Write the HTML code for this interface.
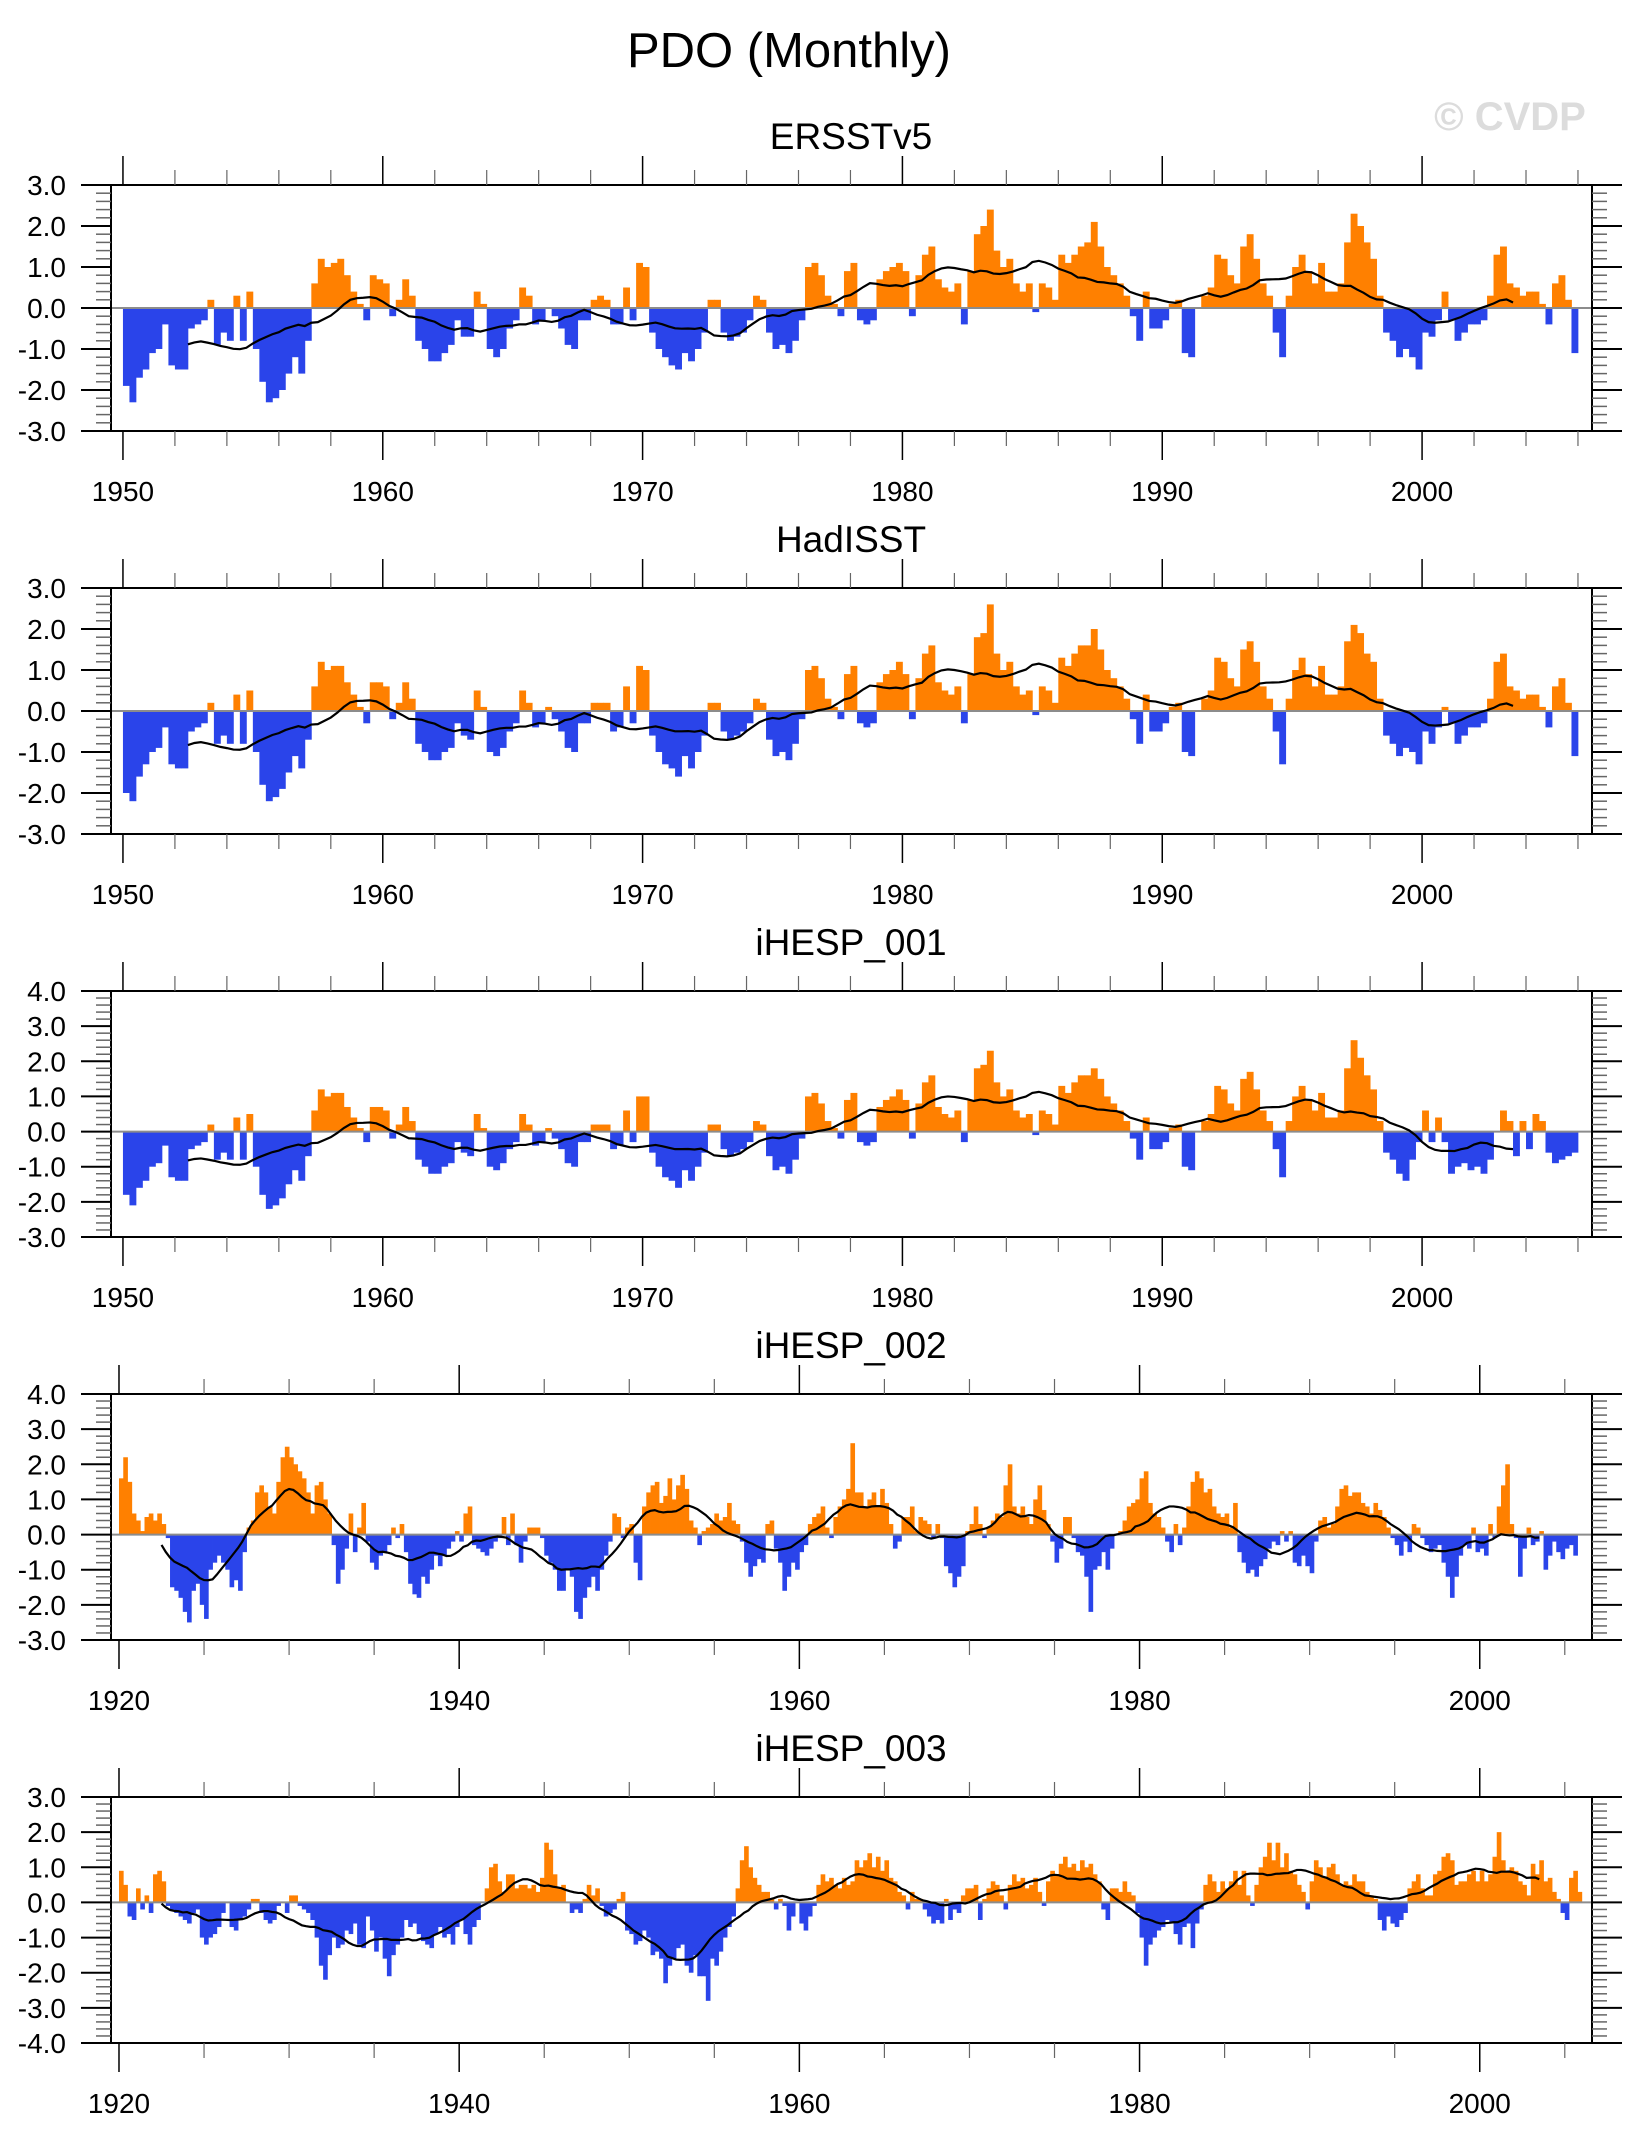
<!DOCTYPE html>
<html>
<head>
<meta charset="utf-8">
<style>
html,body{margin:0;padding:0;background:#fff;}
svg{display:block;font-family:"Liberation Sans",sans-serif;}
</style>
</head>
<body>
<svg id="chart" width="1629" height="2141" viewBox="0 0 1629 2141" xmlns="http://www.w3.org/2000/svg">
  <rect x="0" y="0" width="1629" height="2141" fill="#fff"/>
  <text x="789" y="67" font-size="49" text-anchor="middle" fill="#000">PDO (Monthly)</text>
  <text x="1510" y="130" font-size="40" font-weight="bold" text-anchor="middle" fill="#dcdcdc">© CVDP</text>
</svg>
<script>
// ---- data (quarterly PDO index values) ----
const ersstStart = 1950;
const ersstValues = [
-1.9,-2.3,-1.7,-1.5, -1.1,-1.0,-0.4,-1.4, -1.5,-1.5,-0.5,-0.4, -0.3,0.2,-0.9,-0.6, -0.8,0.3,-0.8,0.4,
-1.0,-1.8,-2.3,-2.2, -2.0,-1.6,-1.2,-1.6, -0.8,0.6,1.2,1.0, 1.1,1.2,0.8,0.4, 0.1,-0.3,0.8,0.7,
0.6,-0.2,0.2,0.7, 0.3,-0.8,-1.0,-1.3, -1.3,-1.1,-0.9,-0.3, -0.7,-0.7,0.4,0.1, -1.0,-1.2,-1.0,-0.5,
-0.3,0.5,0.3,-0.4, -0.3,0.0,-0.2,-0.5, -0.9,-1.0,-0.3,-0.3, 0.2,0.3,0.2,-0.4, -0.4,0.5,-0.3,1.1,
1.0,-0.6,-1.0,-1.2, -1.4,-1.5,-1.1,-1.3, -1.0,-0.6,0.2,0.2, -0.6,-0.8,-0.7,-0.6, -0.3,0.3,0.2,-0.6,
-1.0,-0.9,-1.1,-0.8, -0.3,1.0,1.1,0.8, 0.3,0.1,-0.2,0.9, 1.1,-0.3,-0.4,-0.3, 0.7,0.9,1.0,1.1,
0.9,-0.2,0.8,1.3, 1.5,0.7,0.5,0.4, 0.6,-0.4,0.9,1.8, 2.0,2.4,1.4,1.0, 1.2,0.6,0.4,0.6,
-0.1,0.6,0.5,0.2, 1.3,1.1,1.3,1.5, 1.6,2.1,1.5,1.0, 0.8,0.6,0.3,-0.2, -0.8,0.4,-0.5,-0.5,
-0.3,0.1,0.2,-1.1, -1.2,0.0,0.3,0.5, 1.3,1.2,0.8,0.6, 1.5,1.8,1.2,0.6, 0.3,-0.6,-1.2,0.3,
1.0,1.3,0.9,0.6, 1.1,0.4,0.4,0.6, 1.6,2.3,2.0,1.6, 1.2,0.3,-0.6,-0.8, -1.2,-1.0,-1.2,-1.5,
-0.6,-0.7,-0.3,0.4, -0.3,-0.8,-0.6,-0.4, -0.4,-0.3,0.3,1.3, 1.5,0.6,0.5,0.3, 0.4,0.4,0.1,-0.4,
0.6,0.8,0.2,-1.1
];
const hadStart = 1950;
const hadValues = [
-2.0,-2.2,-1.6,-1.3, -1.0,-0.9,-0.4,-1.3, -1.4,-1.4,-0.5,-0.4, -0.3,0.2,-0.8,-0.6, -0.8,0.4,-0.8,0.5,
-1.0,-1.8,-2.2,-2.1, -1.9,-1.5,-1.1,-1.4, -0.7,0.6,1.2,1.0, 1.1,1.1,0.7,0.4, 0.1,-0.3,0.7,0.7,
0.6,-0.2,0.2,0.7, 0.3,-0.8,-1.0,-1.2, -1.2,-1.0,-0.9,-0.3, -0.6,-0.7,0.5,0.1, -1.0,-1.1,-0.9,-0.5,
-0.3,0.5,0.2,-0.4, -0.3,0.1,-0.2,-0.5, -0.9,-1.0,-0.3,-0.3, 0.2,0.2,0.2,-0.5, -0.4,0.6,-0.3,1.1,
1.0,-0.6,-1.0,-1.3, -1.4,-1.6,-1.1,-1.4, -1.0,-0.6,0.2,0.2, -0.5,-0.7,-0.6,-0.5, -0.3,0.3,0.2,-0.7,
-1.1,-1.0,-1.2,-0.8, -0.2,1.0,1.1,0.8, 0.3,0.1,-0.2,0.9, 1.1,-0.3,-0.4,-0.3, 0.7,0.9,1.0,1.2,
0.9,-0.2,0.8,1.4, 1.6,0.7,0.5,0.4, 0.6,-0.3,0.9,1.8, 1.9,2.6,1.4,1.0, 1.2,0.6,0.4,0.5,
-0.1,0.6,0.5,0.2, 1.3,1.1,1.4,1.6, 1.6,2.0,1.5,1.0, 0.8,0.6,0.3,-0.2, -0.8,0.4,-0.5,-0.5,
-0.3,0.1,0.2,-1.0, -1.1,0.0,0.3,0.5, 1.3,1.2,0.8,0.6, 1.5,1.7,1.2,0.6, 0.3,-0.5,-1.3,0.3,
1.0,1.3,0.9,0.6, 1.1,0.4,0.4,0.6, 1.7,2.1,1.9,1.4, 1.2,0.3,-0.6,-0.8, -1.1,-0.9,-1.0,-1.3,
-0.5,-0.8,-0.4,0.1, -0.3,-0.8,-0.6,-0.4, -0.4,-0.3,0.3,1.2, 1.4,0.6,0.5,0.3, 0.4,0.4,0.1,-0.4,
0.6,0.8,0.2,-1.1
];
const ih1Start = 1950;
const ih1Values = [
-1.8,-2.1,-1.6,-1.4, -1.0,-0.9,-0.4,-1.3, -1.4,-1.4,-0.5,-0.4, -0.3,0.2,-0.8,-0.6, -0.8,0.4,-0.8,0.5,
-1.0,-1.8,-2.2,-2.1, -1.9,-1.5,-1.1,-1.4, -0.7,0.6,1.2,1.0, 1.1,1.1,0.7,0.4, 0.1,-0.3,0.7,0.7,
0.6,-0.2,0.2,0.7, 0.3,-0.8,-1.0,-1.2, -1.2,-1.0,-0.9,-0.3, -0.6,-0.7,0.5,0.1, -1.0,-1.1,-0.9,-0.5,
-0.3,0.5,0.2,-0.4, -0.3,0.1,-0.2,-0.5, -0.9,-1.0,-0.3,-0.3, 0.2,0.2,0.2,-0.5, -0.4,0.6,-0.3,1.0,
1.0,-0.6,-1.0,-1.3, -1.4,-1.6,-1.1,-1.4, -1.0,-0.6,0.2,0.2, -0.5,-0.7,-0.6,-0.5, -0.3,0.3,0.2,-0.7,
-1.1,-1.0,-1.2,-0.8, -0.2,1.0,1.1,0.8, 0.3,0.1,-0.2,0.9, 1.1,-0.3,-0.4,-0.3, 0.7,0.9,1.0,1.2,
0.9,-0.2,0.8,1.4, 1.6,0.7,0.5,0.4, 0.6,-0.3,0.9,1.8, 1.9,2.3,1.4,1.0, 1.2,0.6,0.4,0.5,
-0.1,0.6,0.5,0.2, 1.3,1.1,1.4,1.6, 1.6,1.8,1.5,1.0, 0.8,0.6,0.3,-0.2, -0.8,0.4,-0.5,-0.5,
-0.3,0.1,0.2,-1.0, -1.1,0.0,0.3,0.5, 1.3,1.2,0.8,0.6, 1.5,1.7,1.2,0.6, 0.3,-0.5,-1.3,0.3,
1.0,1.3,0.9,0.6, 1.1,0.4,0.4,0.6, 1.8,2.6,2.1,1.6, 1.2,0.3,-0.6,-0.8, -1.2,-1.4,-0.8,-0.3,
0.6,-0.3,0.4,-0.3, -1.2,-1.0,-0.9,-1.1, -1.0,-1.2,-0.8,0.0, 0.6,0.3,-0.7,0.3, -0.5,0.5,0.3,-0.6,
-0.9,-0.8,-0.7,-0.6
];
const ih2Start = 1920;
const ih2Values = [
1.6,2.2,1.5,0.6, 0.4,0.1,0.5,0.6, 0.4,0.6,0.3,-0.1, -1.5,-1.6,-1.8,-2.2, -2.5,-1.6,-1.4,-2.0,
-2.4,-1.0,-0.8,-0.6, -0.8,-1.0,-1.5,-1.3, -1.6,-0.5,0.2,0.4, 1.2,1.4,1.2,0.8, 0.6,1.5,2.2,2.5,
2.2,2.0,1.8,1.6, 1.2,0.6,1.4,1.5, 1.0,0.6,-0.3,-1.4, -1.0,-0.4,0.6,-0.5, 0.2,0.9,-0.2,-0.8,
-1.0,-0.6,-0.5,-0.3, 0.2,-0.1,0.3,-0.5, -1.4,-1.7,-1.8,-1.2, -1.4,-1.0,-0.6,-0.9, -0.6,-0.4,-0.2,0.1,
-0.2,0.6,0.8,-0.3, -0.4,-0.5,-0.6,-0.4, -0.2,-0.1,0.5,-0.3, 0.6,-0.3,-0.8,-0.2, 0.2,0.2,0.2,-0.1,
-0.6,-0.8,-1.0,-1.6, -1.6,-1.0,-1.2,-2.2, -2.4,-1.8,-1.5,-1.2, -1.6,-1.0,-0.6,-0.2, 0.6,0.5,-0.1,0.2,
0.3,-0.8,-1.3,0.8, 1.2,1.4,1.5,0.9, 1.1,1.6,1.0,1.4, 1.7,1.3,0.4,0.2, -0.3,0.1,0.2,0.3,
0.6,0.4,0.5,0.9, 0.4,0.3,-0.2,-0.8, -1.2,-0.9,-0.7,-0.8, 0.3,0.4,-0.4,-0.8, -1.6,-1.2,-0.8,-1.0,
-0.5,-0.3,0.3,0.5, 0.6,0.8,0.2,-0.1, 0.5,0.8,1.0,1.3, 2.6,1.2,1.2,0.8, 1.0,1.2,0.8,1.3,
0.9,0.3,-0.4,-0.2, 0.5,0.5,0.8,0.1, 0.5,0.4,0.3,-0.1, 0.3,-0.1,-0.9,-1.1, -1.5,-1.2,-0.9,0.1,
0.3,0.8,0.3,-0.1, 0.2,0.4,0.6,0.5, 1.4,2.0,0.8,0.6, 0.8,0.5,0.3,1.0, 1.4,0.7,0.3,-0.2,
-0.8,-0.4,0.5,0.5, -0.1,-0.5,-0.6,-1.2, -2.2,-1.0,-0.9,-0.5, -1.0,-0.4,0.0,0.1, 0.4,0.8,0.9,1.0,
1.6,1.8,0.9,0.6, 0.5,0.2,-0.2,-0.5, 0.3,-0.3,0.2,0.8, 1.5,1.8,1.6,1.2, 1.3,0.8,0.6,0.5,
0.6,0.2,0.9,-0.5, -0.8,-1.1,-1.0,-1.2, -0.9,-0.7,-0.4,-0.2, -0.3,0.1,-0.2,0.1, -0.8,-0.9,-0.6,-0.9,
-1.1,-0.2,0.4,0.5, 0.2,0.3,0.8,1.3, 1.4,1.1,1.2,1.2, 0.9,0.8,0.6,0.9, 0.7,0.5,0.2,-0.1,
-0.3,-0.6,-0.2,-0.5, 0.3,0.2,-0.1,-0.3, -0.5,-0.4,-0.3,-0.8, -1.2,-1.8,-1.2,-0.6, -0.3,-0.4,0.2,-0.5,
-0.4,-0.6,0.3,-0.1, 0.8,1.4,2.0,0.3, -0.1,-1.2,-0.4,0.2, -0.3,-0.2,0.1,-1.0, -0.6,-0.2,-0.5,-0.7,
-0.4,-0.3,-0.6,0.0
];
const ih3Start = 1920;
const ih3Values = [
0.9,0.5,-0.4,-0.5, 0.4,-0.2,0.2,-0.3, 0.8,0.9,0.6,-0.1, -0.2,-0.3,-0.4,-0.5, -0.6,-0.3,-0.2,-1.0,
-1.2,-1.0,-0.9,-0.7, -0.3,0.0,-0.7,-0.8, -0.5,-0.4,-0.2,0.1, 0.1,-0.3,-0.5,-0.6, -0.5,-0.1,0.0,-0.3,
0.2,0.2,-0.1,-0.2, -0.3,-0.5,-1.0,-1.8, -2.2,-1.5,-1.0,-1.3, -1.2,-0.8,-0.9,-0.6, -1.2,-1.3,-0.4,-0.8,
-1.4,-1.0,-1.6,-2.1, -1.5,-1.2,-1.0,-0.5, -0.7,-0.6,-0.9,-1.1, -1.2,-1.3,-0.9,-0.7, -1.0,-0.9,-1.2,-0.7,
-0.5,-0.9,-1.2,-0.7, -0.5,0.0,0.4,1.0, 1.1,0.6,0.3,0.8, 0.8,0.4,0.5,0.5, 0.4,0.5,0.3,0.7,
1.7,1.5,0.8,0.4, 0.5,0.0,-0.3,-0.2, -0.3,0.1,0.5,0.2, 0.4,-0.1,-0.4,-0.3, -0.2,0.1,0.3,-0.8,
-0.9,-1.2,-1.1,-0.8, -1.0,-1.5,-1.4,-1.6, -2.3,-1.8,-1.6,-1.3, -1.2,-1.8,-2.0,-1.5, -2.1,-2.1,-2.8,-1.6,
-1.8,-1.4,-1.0,-0.7, -0.4,0.4,1.2,1.6, 1.0,0.7,0.5,0.3, 0.3,0.1,-0.2,0.1, -0.1,-0.8,-0.4,0.0,
-0.6,-0.8,-0.4,-0.1, 0.5,0.8,0.6,0.7, 0.5,0.4,0.7,0.5, 0.6,1.2,1.0,1.2, 1.4,1.0,1.3,0.9,
1.2,0.7,0.6,0.3, 0.2,-0.2,0.3,0.1, 0.1,-0.2,-0.4,-0.6, -0.5,-0.6,0.1,-0.5, -0.2,-0.3,0.2,0.4,
0.4,0.5,-0.5,0.1, 0.4,0.6,0.5,0.2, -0.2,0.5,0.8,0.6, 0.7,0.4,0.5,0.7, 0.3,-0.1,0.6,0.9,
0.8,1.1,1.3,1.0, 1.1,0.9,1.2,1.0, 1.1,0.8,0.6,-0.2, -0.5,0.4,0.4,0.3, 0.6,0.3,0.2,-0.3,
-1.0,-1.8,-1.2,-1.0, -0.8,-0.7,-0.5,-0.6, -0.9,-1.2,-0.7,-0.6, -1.3,-0.6,-0.2,0.5, 0.8,0.6,0.3,0.6,
0.4,0.6,0.9,0.5, 0.9,0.2,-0.1,0.5, 1.0,1.3,1.7,1.2, 1.7,1.0,1.4,0.9, 0.8,0.5,0.3,-0.2,
0.6,1.2,1.0,0.7, 1.0,1.1,0.8,0.5, 0.6,0.5,0.8,0.6, 0.6,0.3,0.2,0.1, -0.5,-0.8,-0.4,-0.6,
-0.7,-0.5,-0.3,0.4, 0.6,0.8,0.4,0.2, 0.2,0.8,0.9,1.3, 1.4,1.2,0.5,0.6, 0.6,0.8,0.9,0.6,
0.9,0.6,0.8,1.3, 2.0,1.2,0.9,1.0, 0.9,0.6,0.5,0.2, 1.1,0.8,1.2,0.6, 0.7,0.3,0.1,-0.3,
-0.5,0.7,0.9,0.3
];
const yTicks3 = [-3, -2, -1, 0, 1, 2, 3];
const yTicks4 = [-3, -2, -1, 0, 1, 2, 3, 4];
const yTicks34 = [-4, -3, -2, -1, 0, 1, 2, 3];
const xLabels1950 = [1950, 1960, 1970, 1980, 1990, 2000];
const xLabels1920 = [1920, 1940, 1960, 1980, 2000];

// ---- rendering ----
const NS = "http://www.w3.org/2000/svg";
const svg = document.getElementById("chart");
const PL = 111, PR = 1592, PH = 246;

function mk(tag, attrs, parent) {
  const el = document.createElementNS(NS, tag);
  for (const k in attrs) el.setAttribute(k, attrs[k]);
  parent.appendChild(el);
  return el;
}

function runningMean(vals, start) {
  const pts = [];
  for (let k = 10; k <= vals.length - 10; k++) {
    let s = 0;
    for (let j = k - 10; j < k + 10; j++) s += vals[j];
    pts.push([start + k / 4, s / 20]);
  }
  return pts;
}

function drawPanel(p) {
  const g = mk("g", {}, svg);
  
  
  const top = p.top, bot = top + PH;
  const X = t => PL + (t - p.xmin) / (p.xmax - p.xmin) * (PR - PL);
  const Y = v => top + (p.ymax - v) / (p.ymax - p.ymin) * PH;

  const title = mk("text", {x: 851, y: top - 36, "font-size": 37, "text-anchor": "middle", fill: "#000"}, g);
  
  
  title.textContent = p.title;

  const bars = mk("g", {}, g);
  
  
  const y0 = Y(0);
  p.values.forEach((v, i) => {
    const t0 = p.start + i / 4;
    const x0 = X(t0), x1 = X(t0 + 0.25);
    const yv = Y(v);
    const r = mk("rect", {x: x0.toFixed(2), y: Math.min(yv, y0).toFixed(2), width: (x1 - x0 + 0.4).toFixed(2), height: Math.abs(yv - y0).toFixed(2), fill: v >= 0 ? "#ff8000" : "#2a44ea"}, bars);
    
    
  });
  const zl = mk("line", {x1: PL, x2: PR, y1: y0, y2: y0, stroke: "#8c8c8c", "stroke-width": 2}, g);
  
  

  const rm = runningMean(p.values, p.start);
  const d = rm.map((q, i) => (i ? "L" : "M") + X(q[0]).toFixed(2) + "," + Y(q[1]).toFixed(2)).join(" ");
  const ln = mk("path", {d: d, fill: "none", stroke: "#000", "stroke-width": 2.2}, g);
  
  

  const fr = mk("rect", {x: PL, y: top, width: PR - PL, height: PH, fill: "none", stroke: "#000", "stroke-width": 2}, g);
  
  

  const yt = mk("g", {}, g);
  
  
  for (let m = Math.round(p.ymin * 5); m <= Math.round(p.ymax * 5); m++) {
    const v = m / 5, yy = Y(v);
    const major = (m % 5 === 0);
    const len = major ? 30 : 15;
    mk("line", {x1: PL - len, x2: PL, y1: yy, y2: yy, stroke: major ? "#000" : "#666", "stroke-width": major ? 2 : 1.5}, yt);
    mk("line", {x1: PR, x2: PR + len, y1: yy, y2: yy, stroke: major ? "#000" : "#666", "stroke-width": major ? 2 : 1.5}, yt);
  }
  p.yTicks.forEach(v => {
    const tl = mk("text", {x: 66, y: Y(v) + 10, "font-size": 28, "text-anchor": "end", fill: "#000"}, yt);
    
    
    tl.textContent = v.toFixed(1);
  });

  const xt = mk("g", {}, g);
  
  
  for (let yr = Math.ceil(p.xmin); yr <= p.xmax; yr++) {
    if (yr % p.minor !== 0) continue;
    const xx = X(yr);
    const major = (yr % p.major === 0);
    const len = major ? 29 : 15;
    mk("line", {x1: xx, x2: xx, y1: top - len, y2: top, stroke: major ? "#000" : "#666", "stroke-width": major ? 1.5 : 1.2}, xt);
    mk("line", {x1: xx, x2: xx, y1: bot, y2: bot + len, stroke: major ? "#000" : "#666", "stroke-width": major ? 1.5 : 1.2}, xt);
  }
  p.xLabels.forEach(yr => {
    const tl = mk("text", {x: X(yr), y: bot + 70, "font-size": 28, "text-anchor": "middle", fill: "#000"}, xt);
    
    
    tl.textContent = String(yr);
  });
}

drawPanel({key: "ersstv5", title: "ERSSTv5", top: 185, values: ersstValues, start: ersstStart, xmin: 1949.54, xmax: 2006.54, ymin: -3, ymax: 3, yTicks: yTicks3, xLabels: xLabels1950, major: 10, minor: 2});
drawPanel({key: "hadisst", title: "HadISST", top: 588, values: hadValues, start: hadStart, xmin: 1949.54, xmax: 2006.54, ymin: -3, ymax: 3, yTicks: yTicks3, xLabels: xLabels1950, major: 10, minor: 2});
drawPanel({key: "ihesp-001", title: "iHESP_001", top: 991, values: ih1Values, start: ih1Start, xmin: 1949.54, xmax: 2006.54, ymin: -3, ymax: 4, yTicks: yTicks4, xLabels: xLabels1950, major: 10, minor: 2});
drawPanel({key: "ihesp-002", title: "iHESP_002", top: 1394, values: ih2Values, start: ih2Start, xmin: 1919.53, xmax: 2006.6, ymin: -3, ymax: 4, yTicks: yTicks4, xLabels: xLabels1920, major: 20, minor: 5});
drawPanel({key: "ihesp-003", title: "iHESP_003", top: 1797, values: ih3Values, start: ih3Start, xmin: 1919.53, xmax: 2006.6, ymin: -4, ymax: 3, yTicks: yTicks34, xLabels: xLabels1920, major: 20, minor: 5});
</script>
</body>
</html>
